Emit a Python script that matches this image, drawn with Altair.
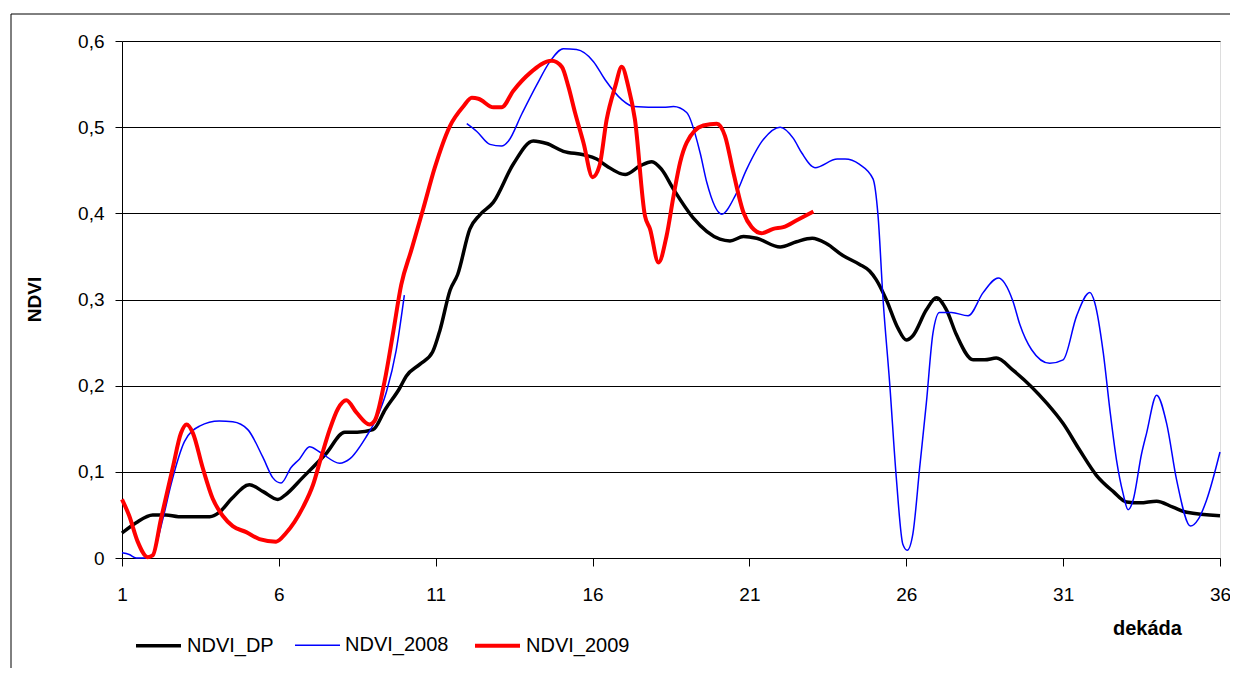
import altair as alt
import pandas as pd

series_names = ["NDVI_DP", "NDVI_2008", "NDVI_2009"]
series_colors = ["#000000", "#0000FF", "#FF0000"]
series_widths = [3.5, 1.5, 4]

x_ticks = [1, 6, 11, 16, 21, 26, 31, 36]
y_ticks = [0, 0.1, 0.2, 0.3, 0.4, 0.5, 0.6]

dp_x = [1.0, 1.45, 1.98, 2.4, 2.8, 3.8, 4.1, 4.5, 5.06, 5.5, 5.97, 6.2, 6.75, 7.5, 8.1, 8.5, 9.0, 9.4,
        9.85, 10.06, 10.5, 10.9, 11.14, 11.46, 11.7, 12.09, 12.4, 12.84, 13.47, 14.11, 14.54, 15.07,
        15.71, 16.13, 16.45, 17.04, 17.51, 17.89, 18.2, 18.58, 19.2, 20.06, 20.38, 20.81, 21.23,
        21.98, 22.5, 23.0, 23.45, 23.98, 24.5, 24.83, 25.04, 25.36, 25.73, 26.0, 26.21, 26.64,
        26.96, 27.28, 27.6, 28.13, 28.5, 28.87, 29.4, 30.47, 31.0, 31.53, 32.06, 32.6, 33.02,
        33.45, 33.98, 34.5, 34.94, 36.0]
dp_y = [0.029, 0.041, 0.050, 0.050, 0.048, 0.048, 0.053, 0.069, 0.085, 0.077, 0.068, 0.073, 0.093,
        0.121, 0.146, 0.146, 0.149, 0.173, 0.197, 0.211, 0.225, 0.239, 0.265, 0.311, 0.329, 0.382,
        0.398, 0.413, 0.457, 0.484, 0.481, 0.472, 0.468, 0.463, 0.455, 0.445, 0.455, 0.460, 0.451,
        0.428, 0.395, 0.370, 0.368, 0.373, 0.371, 0.361, 0.367, 0.371, 0.365, 0.351, 0.341, 0.333,
        0.323, 0.300, 0.267, 0.253, 0.258, 0.288, 0.302, 0.288, 0.259, 0.230, 0.230, 0.232, 0.218,
        0.180, 0.156, 0.125, 0.096, 0.077, 0.065, 0.064, 0.066, 0.059, 0.053, 0.049]

y2008a_x = [1.0, 1.23, 1.45, 1.77, 1.98, 2.3, 2.56, 2.99, 3.47, 4.1, 4.53, 5.01, 5.49, 5.81, 6.07,
            6.39, 6.66, 6.98, 7.3, 7.94, 8.26, 8.79, 9.1, 9.43, 9.74, 10.0]
y2008a_y = [0.006, 0.004, 0.0, 0.0, 0.005, 0.045, 0.085, 0.135, 0.153, 0.159, 0.158, 0.149, 0.117,
            0.093, 0.087, 0.105, 0.115, 0.129, 0.123, 0.110, 0.115, 0.141, 0.161, 0.193, 0.241, 0.305]

y2008b_x = [11.99, 12.31, 12.73, 13.1, 13.32, 13.74, 14.22, 14.64, 15.07, 15.49, 16.03, 16.4, 16.93,
            17.3, 18.26, 18.58, 19.0, 19.43, 19.64, 20.12, 20.54, 20.91, 21.45, 21.98, 22.4, 22.67,
            23.09, 23.8, 24.05, 24.5, 24.94, 25.1, 25.26, 25.47, 25.68, 25.89, 26.03, 26.21, 26.43,
            26.64, 26.85, 27.06, 27.44, 27.97, 28.45, 28.93, 29.4, 29.62, 29.99, 30.57, 31.0, 31.43,
            31.85, 32.01, 32.28, 32.49, 32.7, 32.91, 33.07, 33.23, 33.5, 33.66, 33.98, 34.3, 34.62,
            35.06, 35.31, 35.57, 36.0]
y2008b_y = [0.504, 0.495, 0.480, 0.478, 0.484, 0.515, 0.549, 0.576, 0.591, 0.590, 0.576, 0.555,
            0.532, 0.524, 0.523, 0.524, 0.517, 0.470, 0.436, 0.399, 0.420, 0.451, 0.486, 0.500,
            0.487, 0.470, 0.453, 0.463, 0.463, 0.457, 0.440, 0.397, 0.300, 0.203, 0.094, 0.016,
            0.009, 0.028, 0.106, 0.180, 0.261, 0.285, 0.285, 0.281, 0.308, 0.325, 0.298, 0.271,
            0.242, 0.226, 0.230, 0.281, 0.308, 0.296, 0.238, 0.172, 0.114, 0.075, 0.056, 0.067,
            0.121, 0.145, 0.189, 0.156, 0.090, 0.037, 0.045, 0.067, 0.123]

y2009_x = [1.0, 1.23, 1.5, 1.82, 1.98, 2.24, 2.62, 2.88, 3.06, 3.26, 3.57, 3.89, 4.21, 4.53, 4.96,
           5.38, 5.91, 6.23, 6.77, 7.09, 7.35, 7.62, 7.88, 8.15, 8.47, 8.89, 9.05, 9.37, 9.64, 9.9,
           10.22, 10.6, 10.97, 11.45, 11.88, 12.15, 12.36, 12.84, 13.1, 13.47, 14.01, 14.7, 15.02,
           15.23, 15.44, 15.71, 16.0, 16.22, 16.45, 16.72, 16.93, 17.14, 17.35, 17.67, 17.83, 18.1,
           18.36, 18.58, 18.79, 19.0, 19.53, 19.96, 20.22, 20.49, 20.81, 21.07, 21.39, 21.76, 22.08,
           22.51, 23.04]
y2009_y = [0.068, 0.049, 0.019, 0.001, 0.003, 0.045, 0.105, 0.145, 0.155, 0.145, 0.105, 0.069,
           0.049, 0.037, 0.030, 0.022, 0.019, 0.029, 0.059, 0.085, 0.117, 0.149, 0.173, 0.183,
           0.169, 0.155, 0.159, 0.205, 0.261, 0.317, 0.357, 0.405, 0.453, 0.501, 0.524, 0.534,
           0.533, 0.523, 0.523, 0.542, 0.563, 0.577, 0.570, 0.547, 0.517, 0.482, 0.442, 0.455,
           0.509, 0.547, 0.570, 0.547, 0.509, 0.397, 0.382, 0.343, 0.374, 0.420, 0.459, 0.482,
           0.502, 0.504, 0.490, 0.447, 0.401, 0.384, 0.377, 0.382, 0.384, 0.392, 0.402]

rows = []
for name, seg, xs, ys in [
    ("NDVI_DP", "1dp", dp_x, dp_y),
    ("NDVI_2008", "2a2008", y2008a_x, y2008a_y),
    ("NDVI_2008", "2b2008", y2008b_x, y2008b_y),
    ("NDVI_2009", "3r2009", y2009_x, y2009_y),
]:
    for xv, yv in zip(xs, ys):
        rows.append({"dekada": xv, "ndvi": yv, "series": name, "seg": seg})
df = pd.DataFrame(rows)

FONT = "Liberation Sans"
LBL = 19

legend_cfg = dict(
    orient="none", legendX=12, legendY=580, direction="horizontal", padding=0,
    symbolType="stroke", symbolSize=2025, labelFont=FONT, labelFontSize=20,
    labelColor="#000", labelOffset=4, columnPadding=18,
)

lines = alt.Chart(df).mark_line(interpolate="monotone").encode(
    x=alt.X(
        "dekada:Q",
        scale=alt.Scale(domain=[1, 36], nice=False, zero=False),
        axis=alt.Axis(
            values=x_ticks, title="dekáda", grid=False, tickSize=8, tickColor="#000",
            domainColor="#000", labelFont=FONT, labelFontSize=LBL, labelColor="#000",
            labelPadding=19, titleFont=FONT, titleFontSize=20, titleFontWeight="bold",
            titleColor="#000", titleX=1025, titleY=70, titleAlign="center",
            titleBaseline="middle", labelFlush=False,
        ),
    ),
    y=alt.Y(
        "ndvi:Q",
        scale=alt.Scale(domain=[0, 0.6], nice=False),
        axis=alt.Axis(
            values=y_ticks, title="NDVI", grid=True, gridColor="#000", gridWidth=1,
            tickSize=7, tickColor="#000", domainColor="#000",
            labelExpr="datum.value == 0 ? '0' : replace(format(datum.value, '.1f'), '.', ',')",
            labelFont=FONT, labelFontSize=LBL, labelColor="#000", labelPadding=11,
            titleFont=FONT, titleFontSize=19, titleFontWeight="bold", titleColor="#000",
            titleX=-88, titleY=258, titleAngle=270, titleAlign="center",
            titleBaseline="middle",
        ),
    ),
    color=alt.Color(
        "series:N",
        scale=alt.Scale(domain=series_names, range=series_colors),
        title=None,
        legend=alt.Legend(**legend_cfg),
    ),
    strokeWidth=alt.StrokeWidth(
        "series:N",
        scale=alt.Scale(type="ordinal", domain=series_names, range=series_widths),
        title=None,
        legend=alt.Legend(**legend_cfg),
    ),
    detail="seg:N",
)

frame_data = alt.Data(values=[{"k": 1}])
frame_left = alt.Chart(frame_data).mark_rule(color="#000", strokeWidth=1).encode(
    x=alt.value(-111), y=alt.value(-27), y2=alt.value(627)
)
frame_top = alt.Chart(frame_data).mark_rule(color="#000", strokeWidth=1).encode(
    x=alt.value(-111), x2=alt.value(1108), y=alt.value(-27)
)

chart = alt.layer(lines, frame_left, frame_top).properties(
    width=1098,
    height=517,
    autosize=alt.AutoSizeParams(type="none"),
    padding={"left": 114, "top": 33, "right": 10, "bottom": 110},
).configure_view(stroke="#000", strokeWidth=1).configure(background="white")

chart.save("out.html", embed_options={"renderer": "svg", "actions": False})
